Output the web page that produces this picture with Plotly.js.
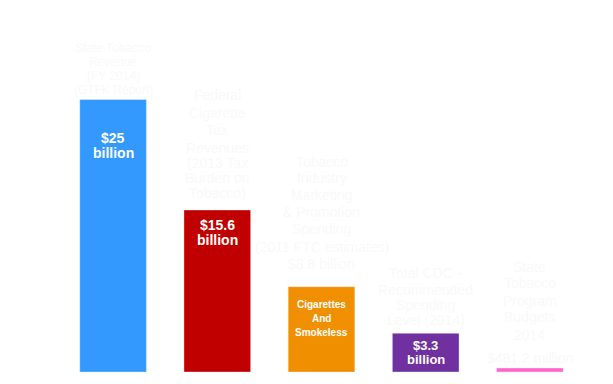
<!DOCTYPE html>
<html>
<head>
<meta charset="utf-8">
<script src="https://cdn.plot.ly/plotly-3.0.1.min.js"></script>
<style>html,body{margin:0;padding:0;background:#fff;}#chart{width:613px;height:384px;}</style>
</head>
<body>
<div id="chart"></div>
<script>
// Categories (bar order, left to right)
const categories = ["State Tobacco Revenue", "Federal Cigarette Tax Revenue", "Tobacco Industry Marketing", "CDC Recommended Spending", "State Tobacco Program Budgets"];
// Bar heights (billions, drawn scale)
const barHeights = [25, 14.86, 7.83, 3.55, 0.37];
const barColors = ["#3399ff", "#c00000", "#f09000", "#7030a0", "#ff66cc"];

// Labels inside the bars (one entry per line)
const innerLabels = [
  ["$25", "billion"],
  ["$15.6", "billion"],
  ["Cigarettes", "And", "Smokeless"],
  ["$3.3", "billion"],
  []
];
// Faint labels above the bars (one entry per line)
const outerLabels = [
  ["State Tobacco", "Revenue", "(FY 2014)", "(GTFK Report)"],
  ["Federal", "Cigarette", "Tax", "Revenues", "(2013 Tax", "Burden on", "Tobacco)"],
  ["Tobacco", "Industry", "Marketing", "& Promotion", "Spending", "(2011 FTC estimates)", "$8.8 billion"],
  ["Total CDC -", "Recommended", "Spending", "Level (2014)"],
  ["State", "Tobacco", "Program", "Budgets", "2014", "$481.2 million"]
];

// layout offsets (px above/below bar top, per line)
const innerStart = [38, 15, 18, 12];
const innerStep = [15, 15, 14, 14];
const innerSize = [14, 14, 10, 13];
const outerSize = [12, 14, 14, 14, 14];
const outerOffsets = [
  [52, 38, 24, 10],
  [115, 97, 80, 62, 47, 32, 17],
  [125, 109, 92, 75, 58, 40, 23],
  [60, 43, 28, 13],
  [101, 85, 67, 51, 33, 10]
];

const font = "Arial, 'Liberation Sans', sans-serif";
const annotations = [];
categories.forEach((c, i) => {
  innerLabels[i].forEach((t, j) => {
    annotations.push({
      x: c, y: barHeights[i], xref: 'x', yref: 'y',
      text: '<b>' + t + '</b>', showarrow: false,
      yanchor: 'middle', xanchor: 'center',
      yshift: -(innerStart[i] + j * innerStep[i]),
      font: {family: font, size: innerSize[i], color: '#ffffff'}
    });
  });
  outerLabels[i].forEach((t, j) => {
    annotations.push({
      x: c, y: barHeights[i], xref: 'x', yref: 'y',
      text: t, showarrow: false,
      yanchor: 'middle', xanchor: 'center',
      yshift: outerOffsets[i][j],
      font: {family: font, size: outerSize[i], color: '#f9f9f9'}
    });
  });
});

const trace = {
  type: 'bar',
  x: categories,
  y: barHeights,
  marker: {color: barColors, line: {color: 'rgba(255,255,255,0.35)', width: 1}},
  hoverinfo: 'none'
};

const layout = {
  width: 613, height: 384,
  margin: {l: 61, r: 31, t: 45, b: 12},
  paper_bgcolor: '#ffffff', plot_bgcolor: '#ffffff',
  bargap: 0.36,
  showlegend: false,
  xaxis: {visible: false, range: [-0.5, 4.5]},
  yaxis: {visible: false, range: [0, 30]},
  annotations: annotations
};

Plotly.newPlot('chart', [trace], layout, {displayModeBar: false, staticPlot: true});
</script>
</body>
</html>
